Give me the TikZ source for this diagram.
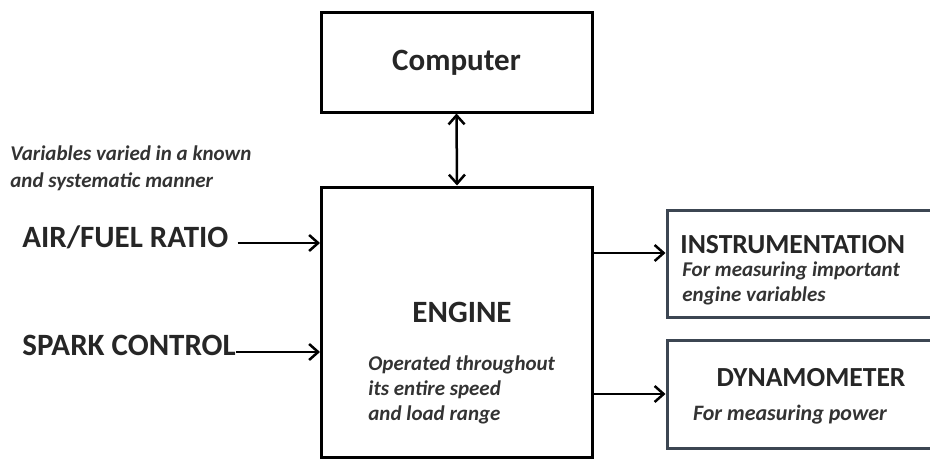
\documentclass[tikz,border=0pt]{standalone}
\usepackage{fontspec}
\setmainfont{Carlito}
\usetikzlibrary{arrows.meta}

\definecolor{slate}{RGB}{60,70,82}

\begin{document}
\begin{tikzpicture}[x=0.5pt,y=-0.5pt,>={Straight Barb[length=4.5pt,width=8pt]},
  box/.style={draw,line width=1.5pt,inner sep=0pt},
  sidebox/.style={draw=slate,line width=1.5pt,inner sep=0pt},
  biglabel/.style={font=\bfseries\fontsize{15.5}{19}\selectfont,text=black!85,inner sep=0pt},
  sidetitle/.style={font=\bfseries\fontsize{13.8}{17}\selectfont,text=black!85,inner sep=0pt},
  note/.style={font=\bfseries\itshape\fontsize{10.5}{12.5}\selectfont,text=black!80,align=left,inner sep=0pt},
  flow/.style={->,line width=1.25pt}]
  \useasboundingbox (0,0) rectangle (930,460);
  \clip (0,0) rectangle (930,460);
  % centre column
  \node[box,biglabel,minimum width=135.5pt,minimum height=49.5pt] (comp) at (456.5,62.5) {Computer};
  \node[box,minimum width=135.5pt,minimum height=135pt] (engine) at (457,322) {};
  \node[biglabel] (enginetitle) at (462,312) {ENGINE};
  \node[note,anchor=north west] (enginenote) at (368,355)
    {Operated throughout\\its entire speed\\and load range};
  \draw[flow,<->] (comp.south) -- (engine.north);
  % inputs
  \node[note,anchor=north west,font=\bfseries\itshape\fontsize{10.5}{13.5}\selectfont] (varnote) at (10,145)
    {Variables varied in a known\\and systematic manner};
  \node[biglabel,anchor=west] (afr) at (22,237) {AIR/FUEL RATIO};
  \node[biglabel,anchor=west] (spark) at (22,345) {SPARK CONTROL};
  \coordinate (afrend) at ([xshift=4.5pt,yshift=-3pt]afr.east);
  \coordinate (sparkend) at ([yshift=-3.5pt]spark.east);
  \draw[flow] (afrend) -- (afrend -| engine.west);
  \draw[flow] (sparkend) -- (sparkend -| engine.west);
  % outputs
  \node[sidebox,minimum width=134pt,minimum height=53.5pt] (instr) at (801,263.5) {};
  \node[sidetitle,anchor=west] (instrtitle) at (680,245) {INSTRUMENTATION};
  \node[note,anchor=north west] (instrnote) at (682,261)
    {For measuring important\\engine variables};
  \node[sidebox,minimum width=134pt,minimum height=54pt] (dyno) at (801,394) {};
  \node[sidetitle] (dynotitle) at (811,378) {DYNAMOMETER};
  \node[note,font=\bfseries\itshape\fontsize{11}{13}\selectfont] (dynonote) at (790,415) {For measuring power};
  \coordinate (instrin) at ([yshift=5.25pt]instr.west);
  \draw[flow] (instrin -| engine.east) -- (instrin);
  \draw[flow] (dyno.west -| engine.east) -- (dyno.west);
\end{tikzpicture}
\end{document}
